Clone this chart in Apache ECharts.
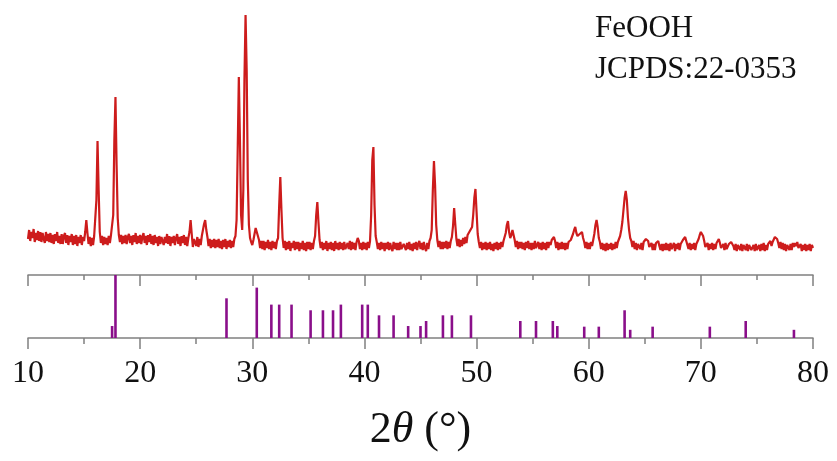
<!DOCTYPE html>
<html>
<head>
<meta charset="utf-8">
<script src="https://cdn.jsdelivr.net/npm/echarts@6/dist/echarts.min.js"></script>
<style>html,body{margin:0;padding:0;background:#fff;}#c{width:837px;height:461px;}</style>
</head>
<body>
<div id="c"></div>
<script>
// XRD scan: 2θ from 10.0° to 80.0° in 0.1° steps
const thetaStart = 10.0;
const thetaStep = 0.1;
const intensity = [
  21,30,19,28,22,31,18,27,20,29,   // 10
  19,28,18,27,21,17,28,19,26,18,   // 11
  27,17,25,16,26,19,28,17,24,16,   // 12
  26,16,24,27,17,25,15,24,18,26,   // 13
  15,24,16,25,14,23,17,25,15,23,   // 14
  19,28,40,27,16,23,14,22,15,24,   // 15
  24,60,119,70,28,17,24,15,23,16,  // 16
  22,15,24,17,25,27,45,120,163,95, // 17
  42,25,18,25,16,24,17,25,16,23,   // 18
  26,17,24,15,25,18,27,16,24,17,   // 19
  25,16,23,27,17,24,15,25,18,26,   // 20
  16,24,15,25,17,23,14,24,16,23,   // 21
  25,15,23,17,26,16,24,14,23,17,   // 22
  24,15,22,26,16,23,14,24,17,25,   // 23
  15,23,14,22,28,40,26,13,21,23,   // 24
  14,23,13,21,15,24,26,36,40,30,   // 25
  23,14,21,12,20,13,21,12,20,13,   // 26
  21,12,19,11,20,13,21,11,19,13,   // 27
  20,12,19,13,21,24,40,110,183,120,// 28
  45,30,70,180,245,190,80,35,22,18,// 29
  15,20,26,32,28,27,20,12,19,11,   // 30
  19,10,18,12,20,11,18,10,19,12,   // 31
  18,11,19,22,55,83,50,22,12,19,   // 32
  10,18,11,19,9,17,12,19,10,18,    // 33
  11,18,9,17,11,19,10,17,9,18,     // 34
  11,18,10,17,11,19,24,45,58,38,   // 35
  20,12,18,10,17,11,19,9,17,11,    // 36
  18,10,17,9,19,11,17,10,18,11,    // 37
  17,10,18,11,9,17,11,19,10,18,    // 38
  11,17,10,18,22,19,11,17,10,18,   // 39
  11,17,10,18,12,19,45,100,113,55, // 40
  24,18,11,17,10,18,11,17,9,17,    // 41
  11,18,10,17,12,9,18,11,17,10,    // 42
  17,10,18,11,9,16,18,10,17,11,    // 43
  18,10,16,9,17,11,18,10,16,19,    // 44
  11,17,10,18,12,9,17,11,19,22,    // 45
  30,70,99,75,35,20,13,19,11,18,   // 46
  11,18,12,19,11,18,12,19,23,34,   // 47
  52,36,21,14,21,13,20,14,22,16,   // 48
  23,17,25,24,29,31,33,45,62,71,   // 49
  48,26,18,12,18,10,17,11,18,10,   // 50
  17,11,18,10,16,9,17,11,18,10,    // 51
  17,11,18,13,19,21,27,35,39,28,   // 52
  22,25,30,29,20,13,19,11,18,12,   // 53
  18,11,17,10,18,12,19,11,17,10,   // 54
  17,11,19,12,10,18,11,17,10,18,   // 55
  11,17,10,18,12,18,15,20,21,23,   // 56
  19,12,18,10,17,11,18,11,17,10,   // 57
  17,11,18,16,20,23,26,30,33,27,   // 58
  24,22,26,28,28,22,18,12,18,11,   // 59
  17,11,18,14,20,26,35,40,33,22,   // 60
  18,11,17,10,16,9,17,10,16,11,    // 61
  17,10,16,11,18,12,18,20,24,30,   // 62
  38,50,62,69,60,42,30,22,19,13,   // 63
  19,11,17,10,16,18,11,17,10,18,   // 64
  18,21,22,19,13,11,17,10,16,10,   // 65
  17,17,19,14,10,16,9,16,10,17,    // 66
  10,16,9,17,11,10,17,9,16,11,     // 67
  17,10,16,16,20,22,23,19,17,11,   // 68
  17,10,16,11,17,10,16,17,21,25,   // 69
  28,29,24,19,13,11,17,10,16,11,   // 70
  17,10,16,11,17,19,21,17,12,10,   // 71
  16,10,17,11,9,16,16,18,19,14,    // 72
  10,16,9,15,17,10,16,9,15,17,     // 73
  10,16,9,15,17,10,8,15,9,16,      // 74
  10,8,15,9,16,10,17,9,15,10,      // 75
  16,15,19,14,18,20,23,25,21,17,   // 76
  12,18,11,17,10,16,9,15,17,10,    // 77
  16,10,17,13,17,14,18,12,10,16,   // 78
  9,15,10,16,9,15,10,16,9,15,      // 79
  12                               // 80
];

// JCPDS 22-0353 reference lines: position (2θ) and relative intensity
const refPositions = [17.5,17.8,27.7,30.4,31.7,32.4,33.5,35.2,36.3,37.2,37.9,39.8,40.3,41.3,42.6,43.9,45.0,45.5,47.0,47.8,49.5,53.9,55.3,56.8,57.2,59.6,60.9,63.2,63.7,65.7,70.8,74.0,78.3];
const refIntensity = [19,100,63,80,53,53,53,44,44,44,53,53,53,36,36,19,19,27,36,36,36,27,27,27,19,18,18,44,13,18,18,27,13];

const xTicks = [10,20,30,40,50,60,70,80];
const labelText = ['FeOOH', 'JCPDS:22-0353'];

const xrdData = intensity.map((v, i) => [Math.round((thetaStart + i * thetaStep) * 10) / 10, v]);
const refData = refPositions.map((p, i) => [p, refIntensity[i]]);

const chart = echarts.init(document.getElementById('c'), null, {renderer: 'canvas'});
const serif = 'Liberation Serif, Times New Roman, serif';
const axisGray = '#808080';

chart.setOption({
  animation: false,
  backgroundColor: '#ffffff',
  grid: [
    {left: 28, right: 24, top: 10, height: 250},
    {left: 28, right: 24, top: 275, height: 63}
  ],
  xAxis: [
    {gridIndex: 0, type: 'value', min: 10, max: 80, show: false},
    {gridIndex: 1, type: 'value', min: xTicks[0], max: xTicks[xTicks.length - 1], interval: 10,
      position: 'bottom',
      axisLine: {show: true, onZero: false, lineStyle: {color: axisGray, width: 1.5}},
      axisTick: {show: true, inside: false, length: 11, lineStyle: {color: axisGray, width: 1.5}},
      minorTick: {show: true, splitNumber: 2, length: 6, lineStyle: {color: axisGray, width: 1.5}},
      splitLine: {show: false},
      axisLabel: {show: true, margin: 20, color: '#111', fontFamily: serif, fontSize: 32},
      name: '2{i|θ} (°)',
      nameLocation: 'middle',
      nameGap: 70,
      nameTextStyle: {color: '#111', fontFamily: serif, fontSize: 44,
        rich: {i: {fontStyle: 'italic', fontFamily: serif, fontSize: 44, color: '#111'}}}
    },
    {gridIndex: 1, type: 'value', min: 10, max: 80, interval: 10,
      position: 'top',
      axisLine: {show: true, onZero: false, lineStyle: {color: axisGray, width: 1.5}},
      axisTick: {show: true, inside: true, length: 11, lineStyle: {color: axisGray, width: 1.5}},
      minorTick: {show: true, splitNumber: 2, length: 5, lineStyle: {color: axisGray, width: 1.5}},
      splitLine: {show: false},
      axisLabel: {show: false}
    }
  ],
  yAxis: [
    {gridIndex: 0, type: 'value', min: 0, max: 250, show: false},
    {gridIndex: 1, type: 'value', min: 0, max: 100, show: false}
  ],
  graphic: [
    {type: 'text', left: 595, top: 13, style: {text: labelText[0], font: '31px ' + serif, fill: '#111'}},
    {type: 'text', left: 595, top: 54, style: {text: labelText[1], font: '31px ' + serif, fill: '#111'}}
  ],
  series: [
    {type: 'line', xAxisIndex: 0, yAxisIndex: 0, data: xrdData, showSymbol: false,
      lineStyle: {color: '#cd1c1c', width: 2.2}, itemStyle: {color: '#cd1c1c'}},
    {type: 'bar', xAxisIndex: 1, yAxisIndex: 1, data: refData, barWidth: 2.6,
      itemStyle: {color: '#8a0f8a'}}
  ]
});
</script>
</body>
</html>
